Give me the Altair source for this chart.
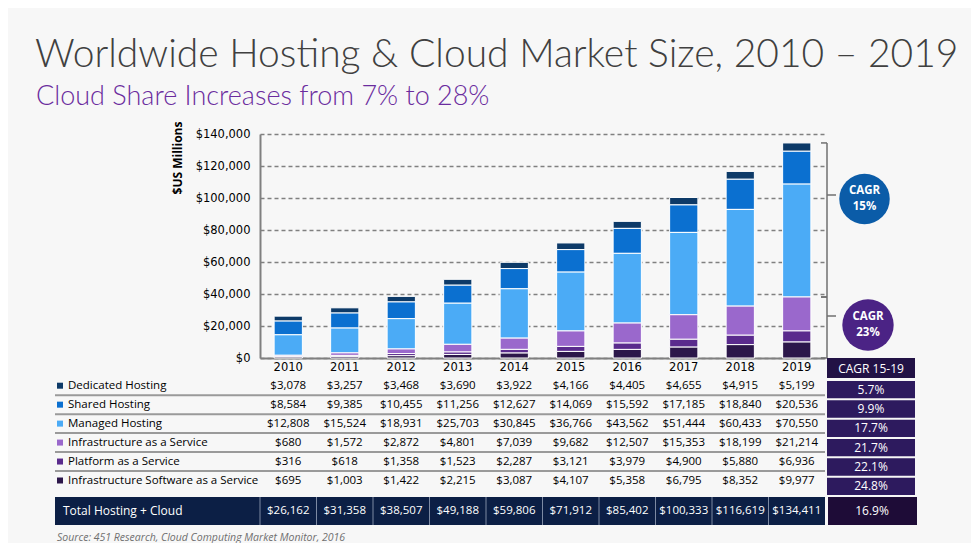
import altair as alt
import pandas as pd

# ---------------- data ----------------
years = ["2010", "2011", "2012", "2013", "2014", "2015", "2016", "2017", "2018", "2019"]
series_names = [
    "Dedicated Hosting",
    "Shared Hosting",
    "Managed Hosting",
    "Infrastructure as a Service",
    "Platform as a Service",
    "Infrastructure Software as a Service",
]
dedicated = [3078, 3257, 3468, 3690, 3922, 4166, 4405, 4655, 4915, 5199]
shared = [8584, 9385, 10455, 11256, 12627, 14069, 15592, 17185, 18840, 20536]
managed = [12808, 15524, 18931, 25703, 30845, 36766, 43562, 51444, 60433, 70550]
iaas = [680, 1572, 2872, 4801, 7039, 9682, 12507, 15353, 18199, 21214]
paas = [316, 618, 1358, 1523, 2287, 3121, 3979, 4900, 5880, 6936]
isaas = [695, 1003, 1422, 2215, 3087, 4107, 5358, 6795, 8352, 9977]
totals = [26162, 31358, 38507, 49188, 59806, 71912, 85402, 100333, 116619, 134411]
cagr = ["5.7%", "9.9%", "17.7%", "21.7%", "22.1%", "24.8%"]
cagr_total = "16.9%"
cagr_header = "CAGR 15-19"
total_label = "Total Hosting + Cloud"
circle_word = "CAGR"
hosting_cagr = "15%"
cloud_cagr = "23%"
title_text = "Worldwide Hosting & Cloud Market Size, 2010 \u2013 2019"
subtitle_text = "Cloud Share Increases from 7% to 28%"
source_text = "Source: 451 Research, Cloud Computing Market Monitor, 2016"
y_title = "$US Millions"
y_ticks = [0, 20000, 40000, 60000, 80000, 100000, 120000, 140000]

colors = ["#0d3a68", "#0b70d0", "#4babf6", "#9a68cc", "#5a2b8d", "#2c174a"]
series_values = [dedicated, shared, managed, iaas, paas, isaas]
stack_rank = [5, 4, 3, 2, 1, 0]

rows = []
for name, vals, rank in zip(series_names, series_values, stack_rank):
    for yr, v in zip(years, vals):
        rows.append({"year": yr, "series": name, "value": v, "rank": rank,
                     "label": "${:,}".format(v)})
df = pd.DataFrame(rows)

df_series = pd.DataFrame({"series": series_names, "cagr": cagr})
df_tot = pd.DataFrame({"year": years, "label": ["${:,}".format(t) for t in totals]})

hosting_2019 = dedicated[-1] + shared[-1] + managed[-1]
cloud_2019 = iaas[-1] + paas[-1] + isaas[-1]
df_br = pd.DataFrame({
    "top": [cloud_2019 + hosting_2019, cloud_2019],
    "bottom": [cloud_2019, 0],
})

one = pd.DataFrame({"k": [0]})

# ---------------- scales / helpers ----------------
FONT = "Open Sans"
x_scale = alt.Scale(domain=years, paddingInner=0.5, paddingOuter=0.25)
x_axis = alt.Axis(labelFont="DejaVu Sans", labelFontSize=11.5, labelColor="#000000",
                  ticks=False, labelPadding=3, domainColor="#808080", domainWidth=2,
                  labelAngle=0, grid=False)


def X():
    return alt.X("year:N", scale=x_scale, axis=x_axis, title=None)


val_scale = alt.Scale(domain=[0, 140000], nice=False)
row_scale = alt.Scale(type="point", domain=series_names, range=[251.7, 346.5], padding=0)
cagr_scale = alt.Scale(type="band", domain=series_names, range=[246, 362],
                       paddingInner=0.1, paddingOuter=0.05)


def label(txt, x, y, **kw):
    return alt.Chart(one).mark_text(text=txt, **kw).encode(x=alt.value(x), y=alt.value(y))


# ---------------- layers ----------------
bars = alt.Chart(df).mark_bar(stroke="#ffffff", strokeWidth=1).encode(
    x=X(),
    y=alt.Y("value:Q", stack="zero", title=None, scale=val_scale,
            axis=alt.Axis(values=y_ticks, format="$,d", labelFont="DejaVu Sans",
                          labelFontSize=11.5, labelColor="#000000", ticks=False,
                          labelPadding=10, domainColor="#808080", domainWidth=2,
                          grid=True, gridColor="#808080", gridDash=[4, 3],
                          gridWidth=1.5)),
    color=alt.Color("series:N", scale=alt.Scale(domain=series_names, range=colors),
                    legend=None),
    order=alt.Order("rank:Q"),
)

title = label(title_text, -225, -67, font="Lato", fontWeight=300, fontSize=39,
              color="#404040", align="left", baseline="alphabetic")
subtitle = label(subtitle_text, -224, -29, font="Lato", fontWeight=300, fontSize=27,
                 color="#6b2c9e", align="left", baseline="alphabetic")
ytitle = label(y_title, -82, 24, font=FONT, fontWeight="bold", fontSize=12,
               color="#000000", angle=270, align="center", baseline="middle")

# brackets
br_v = alt.Chart(df_br).mark_rule(color="#707070", strokeWidth=1.5).encode(
    x=alt.value(567), y=alt.Y("top:Q", scale=val_scale, axis=None), y2="bottom:Q")
br_top = alt.Chart(df_br).mark_rule(color="#707070", strokeWidth=1.5).encode(
    x=alt.value(561), x2=alt.value(567),
    y=alt.Y("top:Q", scale=val_scale, axis=None))
br_bot = alt.Chart(df_br).mark_rule(color="#707070", strokeWidth=1.5).encode(
    x=alt.value(561), x2=alt.value(567),
    y=alt.Y("bottom:Q", scale=val_scale, axis=None))
tip1 = alt.Chart(one).mark_rule(color="#707070", strokeWidth=1.5).encode(
    x=alt.value(567), x2=alt.value(576), y=alt.value(61))
tip2 = alt.Chart(one).mark_rule(color="#707070", strokeWidth=1.5).encode(
    x=alt.value(567), x2=alt.value(576), y=alt.value(182))

circ1 = alt.Chart(one).mark_point(shape="circle", filled=True, size=2550,
                                  color="#0b5ca8", opacity=1).encode(
    x=alt.value(604.5), y=alt.value(65))
circ2 = alt.Chart(one).mark_point(shape="circle", filled=True, size=2640,
                                  color="#4b2385", opacity=1).encode(
    x=alt.value(608), y=alt.value(191))
ckw = dict(font=FONT, fontWeight="bold", fontSize=11.5, color="#ffffff",
           align="center", baseline="middle")
c1a = label(circle_word, 604.5, 57, **ckw)
c1b = label(hosting_cagr, 604.5, 73, **ckw)
c2a = label(circle_word, 608, 183, **ckw)
c2b = label(cloud_cagr, 608, 199, **ckw)

# table
seps = alt.Chart(df_series.iloc[:-1]).mark_rule(color="#9a9a9a", strokeWidth=2,
                                                 yOffset=9.5).encode(
    x=alt.value(-205), x2=alt.value(565),
    y=alt.Y("series:N", scale=row_scale, axis=None, title=None))
squares = alt.Chart(df_series).mark_square(size=36, opacity=1, filled=True).encode(
    x=alt.value(-200),
    y=alt.Y("series:N", scale=row_scale, axis=None, title=None),
    color=alt.Color("series:N", scale=alt.Scale(domain=series_names, range=colors),
                    legend=None))
row_labels = alt.Chart(df_series).mark_text(font=FONT, fontSize=11.5, color="#000000",
                                            align="left", baseline="middle").encode(
    x=alt.value(-192),
    y=alt.Y("series:N", scale=row_scale, axis=None, title=None),
    text="series:N")
cells = alt.Chart(df).mark_text(font=FONT, fontSize=11.5, color="#000000",
                                align="center", baseline="middle").encode(
    x=X(),
    y=alt.Y("series:N", scale=row_scale, axis=None, title=None),
    text="label:N")

# total row
tot_bg = alt.Chart(one).mark_rect(color="#0c1f45").encode(
    x=alt.value(-205), x2=alt.value(565), y=alt.value(363), y2=alt.value(391))
tot_div = alt.Chart(df_tot).mark_rule(color="#7d8aa3", strokeWidth=1,
                                      xOffset=-28.25).encode(
    x=X(), y=alt.value(363), y2=alt.value(391))
tot_label = label(total_label, -197, 377, font=FONT, fontSize=12, color="#ffffff",
                  align="left", baseline="middle")
tot_vals = alt.Chart(df_tot).mark_text(font=FONT, fontSize=11.5, color="#ffffff",
                                       align="center", baseline="middle").encode(
    x=X(), y=alt.value(377), text="label:N")

# CAGR column
cg_head = alt.Chart(one).mark_rect(color="#221245").encode(
    x=alt.value(567), x2=alt.value(655), y=alt.value(224), y2=alt.value(244))
cg_head_t = label(cagr_header, 611, 235, font=FONT, fontSize=12, color="#ffffff",
                  align="center", baseline="middle")
cg_box = alt.Chart(df_series).mark_rect(color="#2d1a5e").encode(
    x=alt.value(567), x2=alt.value(655),
    y=alt.Y("series:N", scale=cagr_scale, axis=None, title=None))
cg_txt = alt.Chart(df_series).mark_text(font=FONT, fontSize=12, color="#ffffff",
                                        align="center", baseline="middle").encode(
    x=alt.value(611),
    y=alt.Y("series:N", scale=cagr_scale, axis=None, title=None),
    text="cagr:N")
cg_tot = alt.Chart(one).mark_rect(color="#1e0c37").encode(
    x=alt.value(568), x2=alt.value(657), y=alt.value(363), y2=alt.value(391))
cg_tot_t = label(cagr_total, 612, 377, font=FONT, fontSize=12, color="#ffffff",
                 align="center", baseline="middle")

source = label(source_text, -203, 404, font=FONT, fontStyle="italic", fontSize=10.5,
               color="#707070", align="left", baseline="middle")

chart = alt.layer(
    bars, title, subtitle, ytitle,
    br_v, br_top, br_bot, tip1, tip2, circ1, circ2, c1a, c1b, c2a, c2b,
    seps, squares, row_labels, cells,
    tot_bg, tot_div, tot_label, tot_vals,
    cg_head, cg_head_t, cg_box, cg_txt, cg_tot, cg_tot_t,
    source,
).resolve_scale(y="independent").properties(
    width=565, height=224,
    autosize=alt.AutoSizeParams(type="none"),
    padding={"left": 252, "top": 126, "right": 146, "bottom": 185},
    background="#f7f7f7",
).configure_view(stroke=None)

chart.save("out.html", embed_options={"renderer": "svg", "actions": False})
